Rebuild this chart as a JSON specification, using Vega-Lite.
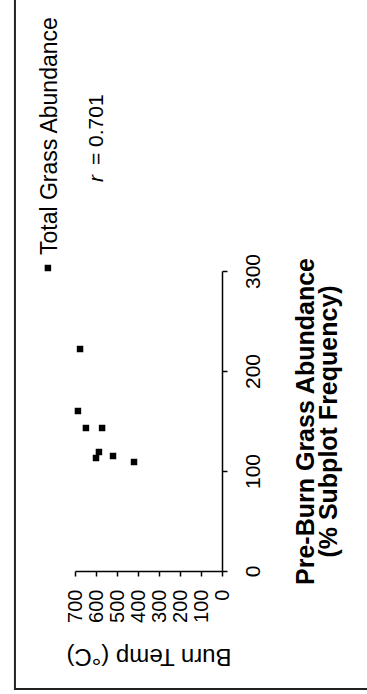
{
  "$schema": "https://vega.github.io/schema/vega-lite/v6.json",
  "width": 147,
  "height": 300,
  "autosize": {"type": "none"},
  "padding": {"left": 75, "top": 271, "right": 145, "bottom": 123},
  "background": "white",
  "config": {
    "view": {"stroke": null},
    "font": "Liberation Sans",
    "text": {"font": "Liberation Sans", "color": "black"}
  },
  "resolve": {"axis": {"x": "independent", "y": "independent"}},
  "layer": [
    {
      "data": {"values": [{"item": "frame"}]},
      "mark": {"type": "rect", "filled": false, "stroke": "#222", "strokeWidth": 2, "clip": false},
      "encoding": {
        "x": {"datum": 986, "type": "quantitative", "scale": {"domain": [0, 700], "reverse": true, "nice": false, "zero": false}, "axis": null},
        "x2": {"datum": -1200},
        "y": {"datum": -118, "type": "quantitative", "scale": {"domain": [0, 300], "nice": false, "zero": false}, "axis": null},
        "y2": {"datum": 1200}
      }
    },
    {
      "data": {"values": [
        {"temp": 676, "grass": 222},
        {"temp": 686, "grass": 160},
        {"temp": 648, "grass": 143},
        {"temp": 571, "grass": 143},
        {"temp": 586, "grass": 119},
        {"temp": 600, "grass": 113},
        {"temp": 519, "grass": 115},
        {"temp": 419, "grass": 109}
      ]},
      "mark": {"type": "point", "shape": "square", "filled": true, "color": "black", "size": 42, "opacity": 1},
      "encoding": {
        "x": {
          "field": "temp", "type": "quantitative",
          "scale": {"domain": [0, 700], "reverse": true, "nice": false, "zero": false},
          "axis": {
            "orient": "bottom", "values": [0, 100, 200, 300, 400, 500, 600, 700],
            "title": "Burn Temp (°C)", "grid": false,
            "domainColor": "black", "domainWidth": 1.5, "tickColor": "black", "tickWidth": 1.5, "tickSize": 5,
            "labelAngle": 270, "labelAlign": "right", "labelBaseline": "middle", "labelFontSize": 20,
            "labelPadding": 13, "labelColor": "black", "labelFlush": false, "labelOverlap": false, "labelFont": "Liberation Sans",
            "titleAngle": 180, "titleFontSize": 24, "titleFontWeight": "normal", "titleBaseline": "bottom",
            "titleY": 72, "titleColor": "black", "titleFont": "Liberation Sans"
          }
        },
        "y": {
          "field": "grass", "type": "quantitative",
          "scale": {"domain": [0, 300], "nice": false, "zero": false},
          "axis": {
            "orient": "right", "values": [0, 100, 200, 300],
            "title": ["Pre-Burn Grass Abundance", "(% Subplot Frequency)"], "grid": false,
            "domainColor": "black", "domainWidth": 1.5, "tickColor": "black", "tickWidth": 1.5, "tickSize": 5,
            "labelAngle": 270, "labelAlign": "center", "labelBaseline": "top", "labelFontSize": 21,
            "labelPadding": 15, "labelColor": "black", "labelFlush": false, "labelOverlap": false, "labelFont": "Liberation Sans",
            "titleAngle": 270, "titleFontSize": 25, "titleFontWeight": "bold", "titleBaseline": "alphabetic",
            "titleAlign": "center", "titleX": 91, "titleY": 150, "titleLineHeight": 23, "titleColor": "black", "titleFont": "Liberation Sans"
          }
        }
      }
    },
    {
      "data": {"values": [{"series": "Total Grass Abundance"}]},
      "mark": {"type": "point", "shape": "square", "filled": true, "color": "black", "size": 42, "opacity": 1, "clip": false},
      "encoding": {
        "x": {"datum": 829, "type": "quantitative", "scale": {"domain": [0, 700], "reverse": true, "nice": false, "zero": false}, "axis": null},
        "y": {"datum": 303, "type": "quantitative", "scale": {"domain": [0, 300], "nice": false, "zero": false}, "axis": null}
      }
    },
    {
      "data": {"values": [{"series": "Total Grass Abundance"}]},
      "mark": {"type": "text", "angle": 270, "align": "left", "baseline": "alphabetic", "fontSize": 23, "color": "black", "clip": false},
      "encoding": {
        "text": {"field": "series"},
        "x": {"datum": 786, "type": "quantitative", "scale": {"domain": [0, 700], "reverse": true, "nice": false, "zero": false}, "axis": null},
        "y": {"datum": 316, "type": "quantitative", "scale": {"domain": [0, 300], "nice": false, "zero": false}, "axis": null}
      }
    },
    {
      "data": {"values": [{"label": "r"}]},
      "mark": {"type": "text", "angle": 270, "align": "left", "baseline": "alphabetic", "fontSize": 21, "fontStyle": "italic", "color": "black", "clip": false},
      "encoding": {
        "text": {"field": "label"},
        "x": {"datum": 567, "type": "quantitative", "scale": {"domain": [0, 700], "reverse": true, "nice": false, "zero": false}, "axis": null},
        "y": {"datum": 389, "type": "quantitative", "scale": {"domain": [0, 300], "nice": false, "zero": false}, "axis": null}
      }
    },
    {
      "data": {"values": [{"label": "= 0.701"}]},
      "mark": {"type": "text", "angle": 270, "align": "left", "baseline": "alphabetic", "fontSize": 21, "color": "black", "clip": false},
      "encoding": {
        "text": {"field": "label"},
        "x": {"datum": 567, "type": "quantitative", "scale": {"domain": [0, 700], "reverse": true, "nice": false, "zero": false}, "axis": null},
        "y": {"datum": 406, "type": "quantitative", "scale": {"domain": [0, 300], "nice": false, "zero": false}, "axis": null}
      }
    }
  ]
}
